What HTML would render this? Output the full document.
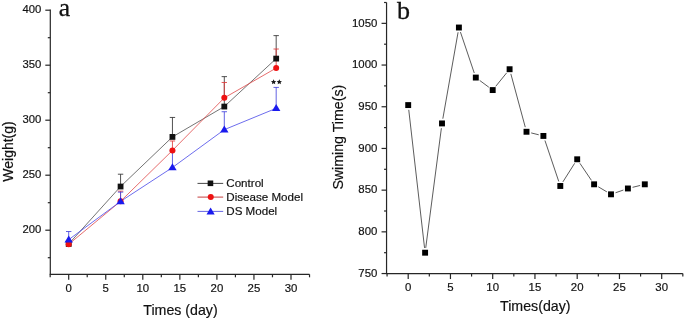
<!DOCTYPE html>
<html><head><meta charset="utf-8"><style>
html,body{margin:0;padding:0;background:#fff;}
svg{display:block;font-family:"Liberation Sans", sans-serif;will-change:transform;}
text{stroke:#111;stroke-width:0.18px;}
</style></head><body>
<svg width="685" height="319" viewBox="0 0 685 319">
<line x1="50.3" y1="9.6" x2="50.3" y2="274.3" stroke="#262626" stroke-width="1.2"/>
<line x1="49.7" y1="274.3" x2="309.53" y2="274.3" stroke="#262626" stroke-width="1.2"/>
<line x1="47.8" y1="257.7" x2="50.3" y2="257.7" stroke="#262626" stroke-width="1.2"/>
<line x1="45.3" y1="230.2" x2="50.3" y2="230.2" stroke="#262626" stroke-width="1.2"/>
<text x="41.3" y="232.9" text-anchor="end" font-size="11.3" fill="#111">200</text>
<line x1="47.8" y1="202.7" x2="50.3" y2="202.7" stroke="#262626" stroke-width="1.2"/>
<line x1="45.3" y1="175.2" x2="50.3" y2="175.2" stroke="#262626" stroke-width="1.2"/>
<text x="41.3" y="177.9" text-anchor="end" font-size="11.3" fill="#111">250</text>
<line x1="47.8" y1="147.7" x2="50.3" y2="147.7" stroke="#262626" stroke-width="1.2"/>
<line x1="45.3" y1="120.2" x2="50.3" y2="120.2" stroke="#262626" stroke-width="1.2"/>
<text x="41.3" y="122.9" text-anchor="end" font-size="11.3" fill="#111">300</text>
<line x1="47.8" y1="92.7" x2="50.3" y2="92.7" stroke="#262626" stroke-width="1.2"/>
<line x1="45.3" y1="65.2" x2="50.3" y2="65.2" stroke="#262626" stroke-width="1.2"/>
<text x="41.3" y="67.9" text-anchor="end" font-size="11.3" fill="#111">350</text>
<line x1="47.8" y1="37.7" x2="50.3" y2="37.7" stroke="#262626" stroke-width="1.2"/>
<line x1="45.3" y1="10.2" x2="50.3" y2="10.2" stroke="#262626" stroke-width="1.2"/>
<text x="41.3" y="12.9" text-anchor="end" font-size="11.3" fill="#111">400</text>
<line x1="50.18" y1="274.3" x2="50.18" y2="277.3" stroke="#262626" stroke-width="1.2"/>
<line x1="68.7" y1="274.3" x2="68.7" y2="279.8" stroke="#262626" stroke-width="1.2"/>
<text x="68.7" y="292.2" text-anchor="middle" font-size="11.4" fill="#111">0</text>
<line x1="87.22" y1="274.3" x2="87.22" y2="277.3" stroke="#262626" stroke-width="1.2"/>
<line x1="105.75" y1="274.3" x2="105.75" y2="279.8" stroke="#262626" stroke-width="1.2"/>
<text x="105.75" y="292.2" text-anchor="middle" font-size="11.4" fill="#111">5</text>
<line x1="124.28" y1="274.3" x2="124.28" y2="277.3" stroke="#262626" stroke-width="1.2"/>
<line x1="142.8" y1="274.3" x2="142.8" y2="279.8" stroke="#262626" stroke-width="1.2"/>
<text x="142.8" y="292.2" text-anchor="middle" font-size="11.4" fill="#111">10</text>
<line x1="161.32" y1="274.3" x2="161.32" y2="277.3" stroke="#262626" stroke-width="1.2"/>
<line x1="179.85" y1="274.3" x2="179.85" y2="279.8" stroke="#262626" stroke-width="1.2"/>
<text x="179.85" y="292.2" text-anchor="middle" font-size="11.4" fill="#111">15</text>
<line x1="198.38" y1="274.3" x2="198.38" y2="277.3" stroke="#262626" stroke-width="1.2"/>
<line x1="216.9" y1="274.3" x2="216.9" y2="279.8" stroke="#262626" stroke-width="1.2"/>
<text x="216.9" y="292.2" text-anchor="middle" font-size="11.4" fill="#111">20</text>
<line x1="235.43" y1="274.3" x2="235.43" y2="277.3" stroke="#262626" stroke-width="1.2"/>
<line x1="253.95" y1="274.3" x2="253.95" y2="279.8" stroke="#262626" stroke-width="1.2"/>
<text x="253.95" y="292.2" text-anchor="middle" font-size="11.4" fill="#111">25</text>
<line x1="272.48" y1="274.3" x2="272.48" y2="277.3" stroke="#262626" stroke-width="1.2"/>
<line x1="291.0" y1="274.3" x2="291.0" y2="279.8" stroke="#262626" stroke-width="1.2"/>
<text x="291.0" y="292.2" text-anchor="middle" font-size="11.4" fill="#111">30</text>
<line x1="309.53" y1="274.3" x2="309.53" y2="277.3" stroke="#262626" stroke-width="1.2"/>
<text x="180.5" y="315.0" text-anchor="middle" font-size="14.2" fill="#111">Times (day)</text>
<text transform="translate(12.9,151.5) rotate(-90)" text-anchor="middle" font-size="14" fill="#111">Weight(g)</text>
<text x="58.8" y="15.7" font-family='"Liberation Serif", serif' font-size="25.5" fill="#111" style="stroke:#111;stroke-width:0.3px">a</text>
<line x1="68.7" y1="243.95" x2="68.7" y2="241.2" stroke="#333" stroke-width="0.85"/>
<line x1="66.0" y1="241.2" x2="71.4" y2="241.2" stroke="#333" stroke-width="0.85"/>
<line x1="120.57" y1="186.53" x2="120.57" y2="174.21" stroke="#333" stroke-width="0.85"/>
<line x1="117.87" y1="174.21" x2="123.27" y2="174.21" stroke="#333" stroke-width="0.85"/>
<line x1="172.44" y1="136.92" x2="172.44" y2="117.45" stroke="#333" stroke-width="0.85"/>
<line x1="169.74" y1="117.45" x2="175.14" y2="117.45" stroke="#333" stroke-width="0.85"/>
<line x1="224.31" y1="106.56" x2="224.31" y2="76.64" stroke="#333" stroke-width="0.85"/>
<line x1="221.61" y1="76.64" x2="227.01" y2="76.64" stroke="#333" stroke-width="0.85"/>
<line x1="276.18" y1="58.6" x2="276.18" y2="35.61" stroke="#333" stroke-width="0.85"/>
<line x1="273.48" y1="35.61" x2="278.88" y2="35.61" stroke="#333" stroke-width="0.85"/>
<line x1="68.7" y1="244.28" x2="68.7" y2="241.2" stroke="#e03a3a" stroke-width="0.85"/>
<line x1="66.0" y1="241.2" x2="71.4" y2="241.2" stroke="#e03a3a" stroke-width="0.85"/>
<line x1="120.57" y1="201.27" x2="120.57" y2="191.15" stroke="#e03a3a" stroke-width="0.85"/>
<line x1="117.87" y1="191.15" x2="123.27" y2="191.15" stroke="#e03a3a" stroke-width="0.85"/>
<line x1="172.44" y1="150.45" x2="172.44" y2="140.99" stroke="#e03a3a" stroke-width="0.85"/>
<line x1="169.74" y1="140.99" x2="175.14" y2="140.99" stroke="#e03a3a" stroke-width="0.85"/>
<line x1="224.31" y1="97.87" x2="224.31" y2="82.47" stroke="#e03a3a" stroke-width="0.85"/>
<line x1="221.61" y1="82.47" x2="227.01" y2="82.47" stroke="#e03a3a" stroke-width="0.85"/>
<line x1="276.18" y1="68.06" x2="276.18" y2="49.03" stroke="#e03a3a" stroke-width="0.85"/>
<line x1="273.48" y1="49.03" x2="278.88" y2="49.03" stroke="#e03a3a" stroke-width="0.85"/>
<line x1="68.7" y1="239.66" x2="68.7" y2="231.52" stroke="#4444dd" stroke-width="0.85"/>
<line x1="66.0" y1="231.52" x2="71.4" y2="231.52" stroke="#4444dd" stroke-width="0.85"/>
<line x1="120.57" y1="201.38" x2="120.57" y2="192.14" stroke="#4444dd" stroke-width="0.85"/>
<line x1="117.87" y1="192.14" x2="123.27" y2="192.14" stroke="#4444dd" stroke-width="0.85"/>
<line x1="172.44" y1="167.5" x2="172.44" y2="151.0" stroke="#4444dd" stroke-width="0.85"/>
<line x1="169.74" y1="151.0" x2="175.14" y2="151.0" stroke="#4444dd" stroke-width="0.85"/>
<line x1="224.31" y1="129.66" x2="224.31" y2="111.73" stroke="#4444dd" stroke-width="0.85"/>
<line x1="221.61" y1="111.73" x2="227.01" y2="111.73" stroke="#4444dd" stroke-width="0.85"/>
<line x1="276.18" y1="108.32" x2="276.18" y2="87.42" stroke="#4444dd" stroke-width="0.85"/>
<line x1="273.48" y1="87.42" x2="278.88" y2="87.42" stroke="#4444dd" stroke-width="0.85"/>
<polyline points="68.70,243.95 120.57,186.53 172.44,136.92 224.31,106.56 276.18,58.60" fill="none" stroke="#505050" stroke-width="0.8"/>
<polyline points="68.70,244.28 120.57,201.27 172.44,150.45 224.31,97.87 276.18,68.06" fill="none" stroke="#e04848" stroke-width="0.8"/>
<polyline points="68.70,239.66 120.57,201.38 172.44,167.50 224.31,129.66 276.18,108.32" fill="none" stroke="#4848e8" stroke-width="0.8"/>
<rect x="65.80" y="241.05" width="5.8" height="5.8" fill="#111111"/>
<rect x="117.67" y="183.63" width="5.8" height="5.8" fill="#111111"/>
<rect x="169.54" y="134.02" width="5.8" height="5.8" fill="#111111"/>
<rect x="221.41" y="103.66" width="5.8" height="5.8" fill="#111111"/>
<rect x="273.28" y="55.70" width="5.8" height="5.8" fill="#111111"/>
<circle cx="68.70" cy="244.28" r="3.0" fill="#ee1111"/>
<circle cx="120.57" cy="201.27" r="3.0" fill="#ee1111"/>
<circle cx="172.44" cy="150.45" r="3.0" fill="#ee1111"/>
<circle cx="224.31" cy="97.87" r="3.0" fill="#ee1111"/>
<circle cx="276.18" cy="68.06" r="3.0" fill="#ee1111"/>
<polygon points="68.70,235.46 64.50,242.46 72.90,242.46" fill="#1a1aee"/>
<polygon points="120.57,197.18 116.37,204.18 124.77,204.18" fill="#1a1aee"/>
<polygon points="172.44,163.30 168.24,170.30 176.64,170.30" fill="#1a1aee"/>
<polygon points="224.31,125.46 220.11,132.46 228.51,132.46" fill="#1a1aee"/>
<polygon points="276.18,104.12 271.98,111.12 280.38,111.12" fill="#1a1aee"/>
<polygon points="273.60,79.25 274.39,80.91 276.22,81.15 274.88,82.42 275.22,84.22 273.60,83.35 271.98,84.22 272.32,82.42 270.98,81.15 272.81,80.91" fill="#1a1a1a"/>
<polygon points="279.30,79.25 280.09,80.91 281.92,81.15 280.58,82.42 280.92,84.22 279.30,83.35 277.68,84.22 278.02,82.42 276.68,81.15 278.51,80.91" fill="#1a1a1a"/>
<line x1="197.5" y1="183.4" x2="223.2" y2="183.4" stroke="#333" stroke-width="0.9"/>
<rect x="207.65" y="180.50" width="5.6" height="5.6" fill="#111111"/>
<text x="226.3" y="187.2" font-size="11.6" fill="#111">Control</text>
<line x1="197.5" y1="197.1" x2="223.2" y2="197.1" stroke="#c02828" stroke-width="0.9"/>
<circle cx="210.75" cy="197.10" r="3.0" fill="#ee1111"/>
<text x="226.3" y="201.1" font-size="11.6" fill="#111">Disease Model</text>
<line x1="197.5" y1="211.4" x2="223.2" y2="211.4" stroke="#5252e0" stroke-width="0.9"/>
<polygon points="210.60,207.50 206.50,214.50 214.70,214.50" fill="#1a1aee"/>
<text x="226.3" y="215.2" font-size="11.6" fill="#111">DS Model</text>
<line x1="386.55" y1="2.5" x2="386.55" y2="273.55" stroke="#262626" stroke-width="1.2"/>
<line x1="385.95" y1="273.55" x2="682.83" y2="273.55" stroke="#262626" stroke-width="1.2"/>
<line x1="381.55" y1="273.55" x2="386.55" y2="273.55" stroke="#262626" stroke-width="1.2"/>
<line x1="384.05" y1="252.7" x2="386.55" y2="252.7" stroke="#262626" stroke-width="1.2"/>
<line x1="381.55" y1="231.85" x2="386.55" y2="231.85" stroke="#262626" stroke-width="1.2"/>
<line x1="384.05" y1="211.0" x2="386.55" y2="211.0" stroke="#262626" stroke-width="1.2"/>
<line x1="381.55" y1="190.15" x2="386.55" y2="190.15" stroke="#262626" stroke-width="1.2"/>
<line x1="384.05" y1="169.3" x2="386.55" y2="169.3" stroke="#262626" stroke-width="1.2"/>
<line x1="381.55" y1="148.45" x2="386.55" y2="148.45" stroke="#262626" stroke-width="1.2"/>
<line x1="384.05" y1="127.6" x2="386.55" y2="127.6" stroke="#262626" stroke-width="1.2"/>
<line x1="381.55" y1="106.75" x2="386.55" y2="106.75" stroke="#262626" stroke-width="1.2"/>
<line x1="384.05" y1="85.9" x2="386.55" y2="85.9" stroke="#262626" stroke-width="1.2"/>
<line x1="381.55" y1="65.05" x2="386.55" y2="65.05" stroke="#262626" stroke-width="1.2"/>
<line x1="384.05" y1="44.2" x2="386.55" y2="44.2" stroke="#262626" stroke-width="1.2"/>
<line x1="381.55" y1="23.35" x2="386.55" y2="23.35" stroke="#262626" stroke-width="1.2"/>
<line x1="384.05" y1="2.5" x2="386.55" y2="2.5" stroke="#262626" stroke-width="1.2"/>
<text x="377.35" y="276.75" text-anchor="end" font-size="11.4" fill="#111">750</text>
<text x="377.35" y="235.05" text-anchor="end" font-size="11.4" fill="#111">800</text>
<text x="377.35" y="193.35" text-anchor="end" font-size="11.4" fill="#111">850</text>
<text x="377.35" y="151.65" text-anchor="end" font-size="11.4" fill="#111">900</text>
<text x="377.35" y="109.95" text-anchor="end" font-size="11.4" fill="#111">950</text>
<text x="377.35" y="68.25" text-anchor="end" font-size="11.4" fill="#111">1000</text>
<text x="377.35" y="26.55" text-anchor="end" font-size="11.4" fill="#111">1050</text>
<line x1="387.07" y1="273.55" x2="387.07" y2="276.55" stroke="#262626" stroke-width="1.2"/>
<line x1="408.2" y1="273.55" x2="408.2" y2="279.05" stroke="#262626" stroke-width="1.2"/>
<text x="408.2" y="291.45" text-anchor="middle" font-size="11.4" fill="#111">0</text>
<line x1="429.32" y1="273.55" x2="429.32" y2="276.55" stroke="#262626" stroke-width="1.2"/>
<line x1="450.45" y1="273.55" x2="450.45" y2="279.05" stroke="#262626" stroke-width="1.2"/>
<text x="450.45" y="291.45" text-anchor="middle" font-size="11.4" fill="#111">5</text>
<line x1="471.57" y1="273.55" x2="471.57" y2="276.55" stroke="#262626" stroke-width="1.2"/>
<line x1="492.7" y1="273.55" x2="492.7" y2="279.05" stroke="#262626" stroke-width="1.2"/>
<text x="492.7" y="291.45" text-anchor="middle" font-size="11.4" fill="#111">10</text>
<line x1="513.82" y1="273.55" x2="513.82" y2="276.55" stroke="#262626" stroke-width="1.2"/>
<line x1="534.95" y1="273.55" x2="534.95" y2="279.05" stroke="#262626" stroke-width="1.2"/>
<text x="534.95" y="291.45" text-anchor="middle" font-size="11.4" fill="#111">15</text>
<line x1="556.08" y1="273.55" x2="556.08" y2="276.55" stroke="#262626" stroke-width="1.2"/>
<line x1="577.2" y1="273.55" x2="577.2" y2="279.05" stroke="#262626" stroke-width="1.2"/>
<text x="577.2" y="291.45" text-anchor="middle" font-size="11.4" fill="#111">20</text>
<line x1="598.32" y1="273.55" x2="598.32" y2="276.55" stroke="#262626" stroke-width="1.2"/>
<line x1="619.45" y1="273.55" x2="619.45" y2="279.05" stroke="#262626" stroke-width="1.2"/>
<text x="619.45" y="291.45" text-anchor="middle" font-size="11.4" fill="#111">25</text>
<line x1="640.57" y1="273.55" x2="640.57" y2="276.55" stroke="#262626" stroke-width="1.2"/>
<line x1="661.7" y1="273.55" x2="661.7" y2="279.05" stroke="#262626" stroke-width="1.2"/>
<text x="661.7" y="291.45" text-anchor="middle" font-size="11.4" fill="#111">30</text>
<line x1="682.83" y1="273.55" x2="682.83" y2="276.55" stroke="#262626" stroke-width="1.2"/>
<text x="535.3" y="311.2" text-anchor="middle" font-size="14.2" fill="#111">Times(day)</text>
<text transform="translate(342.7,137.2) rotate(-90)" text-anchor="middle" font-size="14.2" fill="#111">Swiming Time(s)</text>
<text x="397.1" y="19.3" font-family='"Liberation Serif", serif' font-size="26" fill="#111" style="stroke:#111;stroke-width:0.3px">b</text>
<line x1="408.75" y1="109.85" x2="424.55" y2="247.93" stroke="#4a4a4a" stroke-width="0.9"/>
<line x1="425.72" y1="247.94" x2="441.38" y2="128.19" stroke="#4a4a4a" stroke-width="0.9"/>
<line x1="442.83" y1="118.70" x2="458.07" y2="32.25" stroke="#4a4a4a" stroke-width="0.9"/>
<line x1="460.44" y1="32.07" x2="474.26" y2="73.01" stroke="#4a4a4a" stroke-width="0.9"/>
<line x1="479.66" y1="80.42" x2="488.84" y2="87.21" stroke="#4a4a4a" stroke-width="0.9"/>
<line x1="495.72" y1="86.34" x2="506.58" y2="72.95" stroke="#4a4a4a" stroke-width="0.9"/>
<line x1="510.85" y1="73.85" x2="525.25" y2="127.14" stroke="#4a4a4a" stroke-width="0.9"/>
<line x1="531.16" y1="132.92" x2="538.74" y2="134.79" stroke="#4a4a4a" stroke-width="0.9"/>
<line x1="544.94" y1="140.49" x2="558.76" y2="181.43" stroke="#4a4a4a" stroke-width="0.9"/>
<line x1="562.87" y1="181.92" x2="574.63" y2="163.35" stroke="#4a4a4a" stroke-width="0.9"/>
<line x1="579.89" y1="163.27" x2="591.41" y2="180.33" stroke="#4a4a4a" stroke-width="0.9"/>
<line x1="598.23" y1="186.76" x2="606.87" y2="191.87" stroke="#4a4a4a" stroke-width="0.9"/>
<line x1="615.54" y1="192.75" x2="623.36" y2="190.05" stroke="#4a4a4a" stroke-width="0.9"/>
<line x1="632.56" y1="187.33" x2="640.14" y2="185.46" stroke="#4a4a4a" stroke-width="0.9"/>
<rect x="405.25" y="102.13" width="5.9" height="5.9" fill="#000"/>
<rect x="422.15" y="249.75" width="5.9" height="5.9" fill="#000"/>
<rect x="439.05" y="120.48" width="5.9" height="5.9" fill="#000"/>
<rect x="455.95" y="24.57" width="5.9" height="5.9" fill="#000"/>
<rect x="472.85" y="74.61" width="5.9" height="5.9" fill="#000"/>
<rect x="489.75" y="87.12" width="5.9" height="5.9" fill="#000"/>
<rect x="506.65" y="66.27" width="5.9" height="5.9" fill="#000"/>
<rect x="523.55" y="128.82" width="5.9" height="5.9" fill="#000"/>
<rect x="540.45" y="132.99" width="5.9" height="5.9" fill="#000"/>
<rect x="557.35" y="183.03" width="5.9" height="5.9" fill="#000"/>
<rect x="574.25" y="156.34" width="5.9" height="5.9" fill="#000"/>
<rect x="591.15" y="181.36" width="5.9" height="5.9" fill="#000"/>
<rect x="608.05" y="191.37" width="5.9" height="5.9" fill="#000"/>
<rect x="624.95" y="185.53" width="5.9" height="5.9" fill="#000"/>
<rect x="641.85" y="181.36" width="5.9" height="5.9" fill="#000"/>
</svg>
</body></html>
